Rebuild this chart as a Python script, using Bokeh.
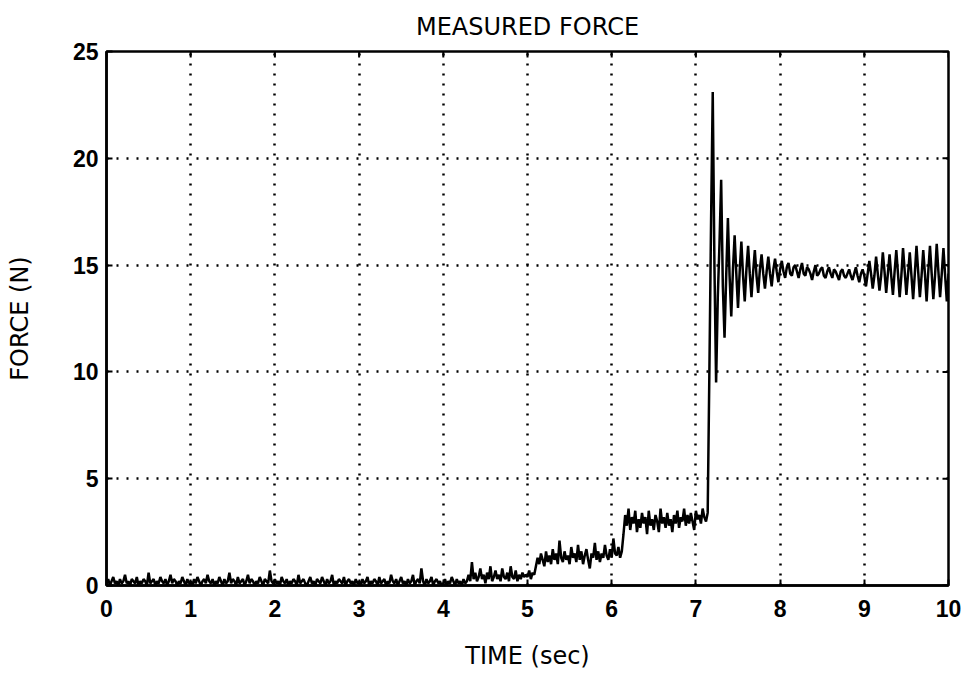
import numpy as np
from bokeh.plotting import figure
from bokeh.models import Range1d, FixedTicker, ColumnDataSource
from bokeh.embed import file_html
from bokeh.resources import INLINE

# ---------------- data ----------------
sample_dt = 0.02  # s between samples
x_ticks = [0, 1, 2, 3, 4, 5, 6, 7, 8, 9, 10]
y_ticks = [0, 5, 10, 15, 20, 25]
title_text = "MEASURED FORCE"

# 0.00 - 4.28 s : unloaded baseline
baseline = [
    0.1, 0.3, 0.0, 0.2, 0.4, 0.1, 0.2, 0.0, 0.3, 0.1,
    0.2, 0.5, 0.1, 0.2, 0.0, 0.3, 0.2, 0.1, 0.4, 0.0,
    0.2, 0.1, 0.3, 0.2, 0.0, 0.6, 0.1, 0.2, 0.3, 0.0,
    0.2, 0.1, 0.4, 0.2, 0.1, 0.3, 0.0, 0.2, 0.5, 0.1,
    0.3, 0.2, 0.0, 0.2, 0.1, 0.4, 0.2, 0.0, 0.3, 0.1,
    0.2, 0.0, 0.3, 0.1, 0.4, 0.2, 0.0, 0.2, 0.3, 0.1,
    0.5, 0.2, 0.1, 0.3, 0.0, 0.2, 0.1, 0.4, 0.2, 0.0,
    0.3, 0.1, 0.2, 0.6, 0.1, 0.3, 0.2, 0.0, 0.4, 0.1,
    0.2, 0.3, 0.0, 0.2, 0.5, 0.1, 0.3, 0.2, 0.0, 0.2,
    0.1, 0.4, 0.2, 0.0, 0.3, 0.2, 0.1, 0.7, 0.2, 0.1,
    0.3, 0.1, 0.2, 0.0, 0.4, 0.2, 0.1, 0.3, 0.0, 0.2,
    0.1, 0.3, 0.2, 0.0, 0.5, 0.1, 0.2, 0.3, 0.1, 0.0,
    0.2, 0.4, 0.1, 0.2, 0.0, 0.3, 0.2, 0.1, 0.4, 0.2,
    0.0, 0.3, 0.1, 0.2, 0.5, 0.0, 0.2, 0.1, 0.3, 0.2,
    0.1, 0.4, 0.0, 0.2, 0.3, 0.1, 0.2, 0.0, 0.3, 0.1,
    0.2, 0.0, 0.3, 0.1, 0.2, 0.4, 0.0, 0.2, 0.1, 0.3,
    0.2, 0.0, 0.4, 0.1, 0.2, 0.3, 0.0, 0.2, 0.1, 0.5,
    0.2, 0.1, 0.3, 0.0, 0.2, 0.4, 0.1, 0.2, 0.0, 0.3,
    0.1, 0.2, 0.5, 0.0, 0.2, 0.3, 0.1, 0.8, 0.2, 0.0,
    0.3, 0.1, 0.2, 0.4, 0.0, 0.2, 0.3, 0.1, 0.2, 0.0,
    0.1, 0.3, 0.0, 0.2, 0.1, 0.4, 0.2, 0.0, 0.3, 0.1,
    0.2, 0.0, 0.3, 0.1, 0.2,
]
# 4.30 - 5.08 s : first contact creep
creep = [
    0.5, 0.2, 1.1, 0.3, 0.6, 0.2, 0.4, 0.8, 0.3, 0.5,
    0.1, 0.6, 0.3, 0.9, 0.2, 0.4, 0.7, 0.3, 0.5, 0.2,
    0.8, 0.4, 0.3, 0.6, 0.2, 0.9, 0.4, 0.3, 0.7, 0.2,
    0.5, 0.3, 0.6, 0.4, 0.5, 0.4, 0.7, 0.3, 0.6, 0.5,
]
# 5.10 - 6.12 s : first load step
step_one = [
    0.9, 1.3, 1.0, 1.5, 1.2, 0.9, 1.6, 1.1, 1.4, 1.0,
    1.7, 1.2, 1.5, 1.0, 2.1, 1.3, 1.1, 1.6, 1.2, 1.4,
    1.0, 1.8, 1.3, 1.5, 1.1, 1.9, 1.2, 1.6, 1.0, 1.4,
    1.7, 1.2, 0.8, 1.5, 1.3, 2.0, 1.2, 1.6, 1.1, 1.5,
    1.3, 1.9, 1.4, 1.2, 1.7, 1.3, 2.2, 1.5, 1.4, 1.8,
    1.3, 1.6,
]
# 6.14 - 7.12 s : second load step
step_two = [
    2.4, 3.3, 2.8, 3.6, 2.6, 3.2, 2.9, 3.5, 2.5, 3.1,
    2.7, 3.4, 2.9, 3.2, 2.4, 3.5, 2.8, 3.1, 2.6, 3.3,
    3.0, 2.5, 3.6, 2.9, 3.2, 2.7, 3.4, 2.8, 3.1, 2.5,
    3.3, 2.9, 3.5, 2.7, 3.2, 3.0, 3.6, 2.8, 3.3, 2.9,
    3.4, 3.0, 2.6, 3.5, 3.1, 3.3, 2.9, 3.6, 3.2, 3.0,
]
# 7.14 - 7.98 s : impact and ringing
impact = [
    3.4, 10.0, 17.0, 23.1, 15.0, 9.5, 13.5, 16.0, 19.0, 14.0,
    11.6, 14.5, 17.2, 14.5, 12.6, 14.8, 16.4, 14.6, 13.0, 14.7,
    16.1, 14.5, 13.3, 14.8, 15.9, 14.6, 13.5, 14.7, 15.7, 14.5,
    13.7, 14.8, 15.5, 14.6, 13.9, 14.7, 15.4, 14.6, 14.0, 14.8,
    15.3, 14.7, 14.2,
]
# 8.00 - 8.98 s : settled contact
settled = [
    14.8, 15.2, 14.7, 14.4, 14.9, 15.1, 14.6, 14.5, 14.9, 15.0,
    14.7, 14.4, 14.8, 15.1, 14.6, 14.5, 14.9, 14.8, 14.6, 14.3,
    14.7, 15.0, 14.5, 14.6, 14.8, 14.9, 14.5, 14.4, 14.7, 14.9,
    14.6, 14.4, 14.8, 14.7, 14.5, 14.3, 14.7, 14.8, 14.5, 14.4,
    14.6, 14.8, 14.5, 14.3, 14.6, 14.9, 14.5, 14.2, 14.6, 14.8,
]
# 9.00 - 10.00 s : chatter
chatter = [
    14.5, 14.0, 14.6, 15.2, 14.6, 13.9, 14.5, 15.4, 14.6, 13.8,
    14.5, 15.6, 14.7, 13.7, 14.6, 15.5, 14.5, 13.6, 14.7, 15.7,
    14.6, 13.5, 14.5, 15.8, 14.7, 13.6, 14.6, 15.6, 14.5, 13.4,
    14.6, 15.9, 14.7, 13.5, 14.5, 15.7, 14.6, 13.3, 14.7, 15.9,
    14.6, 13.4, 14.5, 16.0, 14.7, 13.5, 14.6, 15.8, 14.5, 13.3,
    14.6,
]

force = baseline + creep + step_one + step_two + impact + settled + chatter
time = [i * sample_dt for i in range(len(force))]

# ---------------- figure ----------------
TICK_FONT = "Liberation Sans"
TEXT_FONT = "DejaVu Sans"

p = figure(
    width=964, height=674,
    x_range=Range1d(0, 10), y_range=Range1d(0, 25),
    output_backend="svg", toolbar_location=None,
    min_border_left=106, min_border_right=16,
    min_border_top=51, min_border_bottom=89,
    title=title_text,
)
p.background_fill_color = "white"
p.border_fill_color = "white"

p.title.align = "center"
p.title.vertical_align = "top"
p.title.text_font = TEXT_FONT
p.title.text_font_style = "normal"
p.title.text_font_size = "24px"
p.title.text_color = "black"
p.title.standoff = 17

p.outline_line_color = "black"
p.outline_line_width = 2.5
p.outline_line_alpha = 1.0

for ax in (p.xaxis[0], p.yaxis[0]):
    ax.major_label_text_font = TICK_FONT
    ax.major_label_text_font_style = "bold"
    ax.major_label_text_font_size = "23px"
    ax.major_label_text_color = "black"
    ax.axis_label_text_font = TEXT_FONT
    ax.axis_label_text_font_style = "normal"
    ax.axis_label_text_font_size = "24px"
    ax.axis_label_text_color = "black"
    ax.axis_line_color = "black"
    ax.axis_line_width = 2.5
    ax.major_tick_in = 6
    ax.major_tick_out = 0
    ax.major_tick_line_width = 2
    ax.minor_tick_line_color = None

p.xaxis[0].ticker = FixedTicker(ticks=x_ticks)
p.yaxis[0].ticker = FixedTicker(ticks=y_ticks)
p.xaxis[0].axis_label = "TIME (sec)"
p.yaxis[0].axis_label = "FORCE (N)"
p.xaxis[0].major_label_standoff = 14
p.yaxis[0].major_label_standoff = 8
p.xaxis[0].axis_label_standoff = 22
p.yaxis[0].axis_label_standoff = 36

p.xgrid.ticker = FixedTicker(ticks=x_ticks)
p.ygrid.ticker = FixedTicker(ticks=y_ticks)
for g in (p.xgrid[0], p.ygrid[0]):
    g.grid_line_color = "black"
    g.grid_line_width = 2.5
    g.grid_line_dash = "2 8"
    g.grid_line_alpha = 1.0

# inward tick marks along the top and right edges of the frame
p.ray(x=x_ticks, y=[25] * len(x_ticks), length=6, length_units="screen",
      angle=270, angle_units="deg", line_color="black", line_width=2)
p.ray(x=[10] * len(y_ticks), y=y_ticks, length=6, length_units="screen",
      angle=180, angle_units="deg", line_color="black", line_width=2)

src = ColumnDataSource(data=dict(t=time, f=force))
p.line("t", "f", source=src, line_color="black", line_width=2.5)

open("out.html", "w").write(file_html(p, INLINE))
